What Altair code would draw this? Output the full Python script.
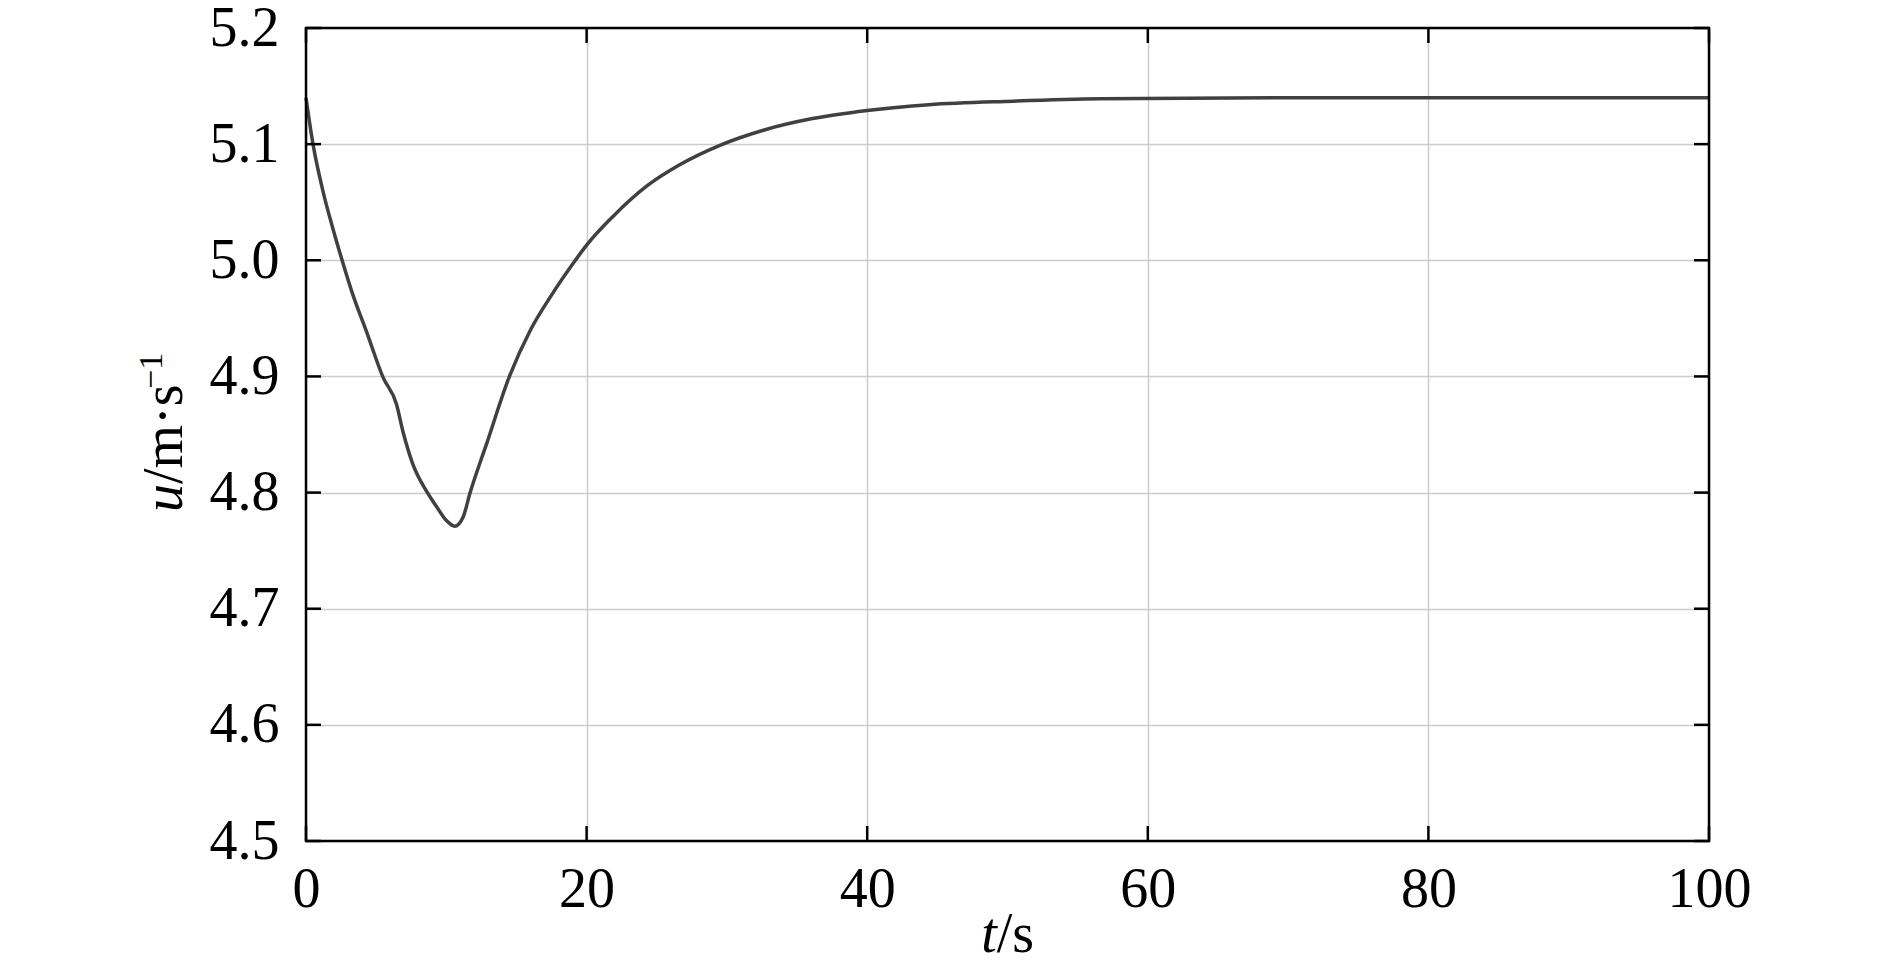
import altair as alt
import pandas as pd

# curve
t_vals = [0, 0.5, 1.2, 1.9, 2.6, 3.35, 4.3, 5.5, 6.45, 6.9, 7.6, 8.6, 9.3, 10.0, 10.6,
          11.2, 11.7, 12.9, 14.5, 16.0, 17.5, 19.2, 20.0, 21.9, 24.3, 26.6, 29.5,
          32.6, 36.1, 40.0, 44.4, 50.4, 56.6, 70.0, 100.0]
u_vals = [5.140, 5.100, 5.060, 5.028, 4.999, 4.970, 4.939, 4.899, 4.876, 4.853, 4.825,
          4.801, 4.788, 4.776, 4.771, 4.779, 4.800, 4.843, 4.900, 4.940, 4.970, 5.000,
          5.013, 5.038, 5.064, 5.082, 5.099, 5.112, 5.122, 5.129, 5.134, 5.137, 5.139,
          5.140, 5.140]

x_ticks = [0, 20, 40, 60, 80, 100]
y_ticks = [4.5, 4.6, 4.7, 4.8, 4.9, 5.0, 5.1, 5.2]

W, H = 1403, 813
FONT = "Liberation Serif"
TL = 15  # inward tick length

df = pd.DataFrame({"t": t_vals, "u": u_vals})
xdf = pd.DataFrame({"v": x_ticks})
ydf = pd.DataFrame({"v": y_ticks})
one = pd.DataFrame({"a": [0]})

xs = alt.Scale(domain=[0, 100], nice=False, zero=False)
ys = alt.Scale(domain=[4.5, 5.2], nice=False, zero=False)

common = dict(grid=True, gridColor="#cccccc", gridWidth=1.5, ticks=False, tickSize=0,
              domain=False, labelFont=FONT, labelFontSize=56, labelColor="black",
              labelFlush=False, labelOverlap=False, title=None)
xaxis = alt.Axis(values=x_ticks, labelPadding=21, **common)
yaxis = alt.Axis(values=y_ticks, format=".1f", labelPadding=27, **common)

line = alt.Chart(df).mark_line(color="#404040", strokeWidth=3.5, interpolate="monotone").encode(
    x=alt.X("t:Q", scale=xs, axis=xaxis),
    y=alt.Y("u:Q", scale=ys, axis=yaxis),
)

tick_style = dict(color="black", strokeWidth=2.5)
left = alt.Chart(ydf).mark_rule(**tick_style).encode(
    y=alt.Y("v:Q", scale=ys, axis=yaxis), x=alt.value(0), x2=alt.value(TL))
right = alt.Chart(ydf).mark_rule(**tick_style).encode(
    y=alt.Y("v:Q", scale=ys, axis=yaxis), x=alt.value(W), x2=alt.value(W - TL))
bottom = alt.Chart(xdf).mark_rule(**tick_style).encode(
    x=alt.X("v:Q", scale=xs, axis=xaxis), y=alt.value(H), y2=alt.value(H - TL))
top = alt.Chart(xdf).mark_rule(**tick_style).encode(
    x=alt.X("v:Q", scale=xs, axis=xaxis), y=alt.value(0), y2=alt.value(TL))

frame = alt.Chart(one).mark_rect(filled=False, stroke="black", strokeWidth=2.5).encode(
    x=alt.value(0), x2=alt.value(W), y=alt.value(0), y2=alt.value(H))

# y-axis title: u/m·s^-1 (rotated)
yt_x, yt_y = -124, 456
y_u = alt.Chart(one).mark_text(text="u", font=FONT, fontSize=56, fontStyle="italic",
                               angle=270, align="right", baseline="alphabetic",
                               color="black").encode(x=alt.value(yt_x), y=alt.value(yt_y))
y_rest = alt.Chart(one).mark_text(text="/m·s", font=FONT, fontSize=56,
                                  angle=270, align="left", baseline="alphabetic",
                                  color="black").encode(x=alt.value(yt_x), y=alt.value(yt_y))
y_sup = alt.Chart(one).mark_text(text="−1", font=FONT, fontSize=34,
                                 angle=270, align="left", baseline="alphabetic",
                                 color="black").encode(x=alt.value(-144), y=alt.value(361))

# x-axis title: t/s
xt_x, xt_y = 690.7, 924
x_t = alt.Chart(one).mark_text(text="t", font=FONT, fontSize=56, fontStyle="italic",
                               align="right", baseline="alphabetic",
                               color="black").encode(x=alt.value(xt_x), y=alt.value(xt_y))
x_rest = alt.Chart(one).mark_text(text="/s", font=FONT, fontSize=56,
                                  align="left", baseline="alphabetic",
                                  color="black").encode(x=alt.value(xt_x), y=alt.value(xt_y))

chart = alt.layer(line, left, right, bottom, top, frame, y_u, y_rest, y_sup, x_t, x_rest).properties(
    width=W, height=H,
    padding={"left": 298, "top": 20, "right": 160, "bottom": 125},
    autosize=alt.AutoSizeParams(type="none"),
    background="white",
).configure_view(strokeWidth=0)

chart.save("out.html", embed_options={"renderer": "svg", "actions": False})
